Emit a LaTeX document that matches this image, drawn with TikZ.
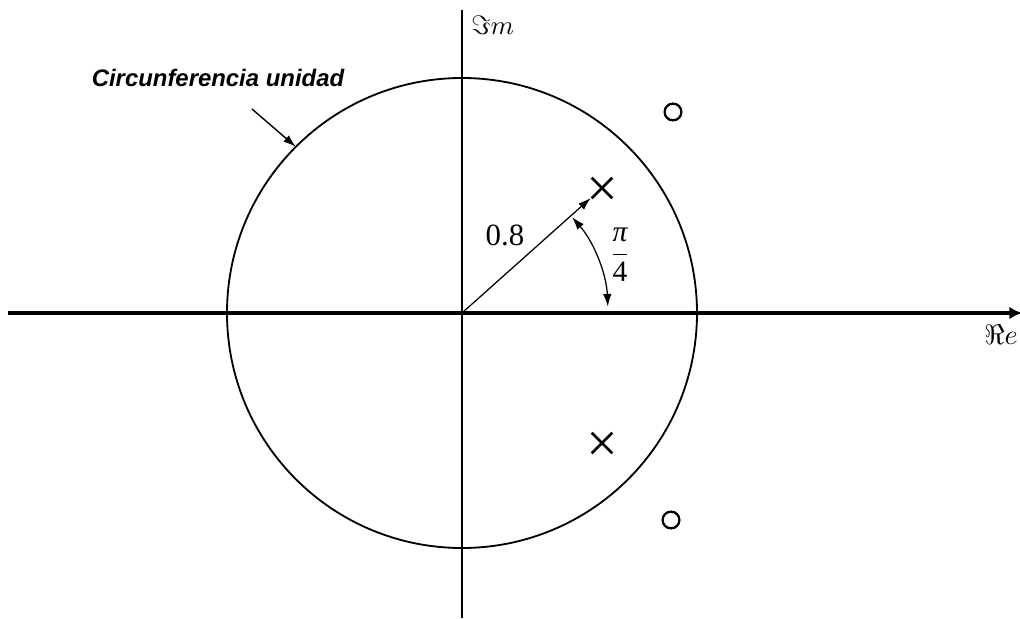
\documentclass[tikz,border=0pt]{standalone}
\usepackage{fontspec}
\newfontfamily\labelfont{Liberation Sans}
\newfontfamily\numfont{Liberation Serif}
\usetikzlibrary{arrows, arrows.meta, math}
\usetikzlibrary{shapes.misc}

\begin{document}
\begin{tikzpicture}[scale=2.5,
  pole/.style={draw, cross out, line width=1.8pt, inner sep=0pt, minimum size=0.45cm},
  zero/.style={draw, circle, line width=1.6pt, inner sep=0pt, minimum size=0.42cm},
  tip/.style={-{Latex[length=9pt,width=6pt]}},
  tips/.style={{Latex[length=9pt,width=6pt]}-{Latex[length=9pt,width=6pt]}}]
\tikzmath{
\R=2.35;
\ra=1.46;
}
\useasboundingbox (-4.62,-3.05) rectangle (5.58,3.13);

%axes:
 \coordinate (O) at (0,0);
 \draw[line width=3pt, -{Latex[length=9pt,width=9pt]}] (-4.54,0) -- (5.60,0);
 \draw[line width=1.3pt] (0,3.03) -- (0,-3.05);
 \node[anchor=west, inner sep=0pt] (imlbl) at (0.09,2.88) {\scalebox{1.9}{$\Im m$}};
 \node[anchor=west, inner sep=0pt] (relbl) at (5.22,-0.22) {\scalebox{2}{$\Re e$}};
%unit circle
 \draw[line width=1.3pt] (O) circle (\R);
 \node[font=\labelfont\bfseries\itshape\fontsize{17}{20}\selectfont] (unitlbl) at (-2.44,2.35) {Circunferencia unidad};
 \coordinate (ua) at (-2.10,2.04);
 \coordinate (ub) at (135:\R);
 \draw[line width=1pt, tip] (ua) -- (ub);
%poles and zeros
 \node[pole] (p1) at (1.40,1.25) {};
 \node[pole] (p2) at (1.40,-1.30) {};
 \node[zero] (z1) at (2.11,2.01) {};
 \node[zero] (z2) at (2.09,-2.07) {};
%radius and angle
 \draw[line width=0.9pt, tip, shorten >=1pt] (O) -- (p1);
 \node[font=\numfont\fontsize{22}{25}\selectfont] (rlbl) at (0.43,0.78) {0.8};
 \draw[line width=0.9pt, tips] (41:\ra) arc (41:2.5:\ra);
 \node[font=\numfont\fontsize{21}{24}\selectfont] (alpha) at (1.58,0.58)
   {$\displaystyle\frac{\hbox{\itshape π}}{\hbox{4}}$};
\end{tikzpicture}
\end{document}
